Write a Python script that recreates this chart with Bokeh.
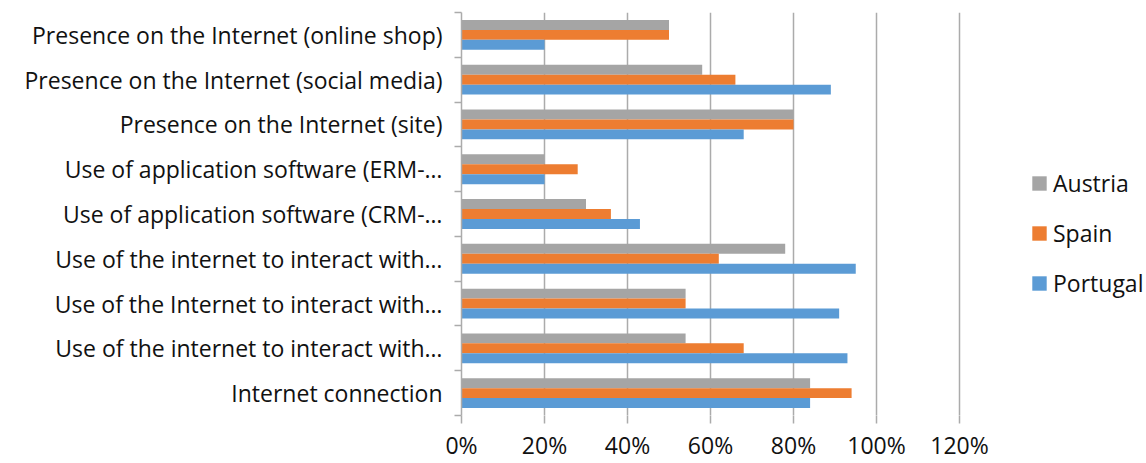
from bokeh.plotting import figure
from bokeh.models import (Range1d, FixedTicker, PrintfTickFormatter, ColumnDataSource,
                          Legend, LegendItem)
from bokeh.transform import dodge
from bokeh.embed import file_html
from bokeh.resources import INLINE

# Categories listed bottom-to-top (as drawn in the chart)
categories = [
    "Internet connection",
    "Use of the internet to interact with…",
    "Use of the Internet to interact with…",
    "Use of the internet to interact with…",
    "Use of application software (CRM-…",
    "Use of application software (ERM-…",
    "Presence on the Internet (site)",
    "Presence on the Internet (social media)",
    "Presence on the Internet (online shop)",
]
portugal = [84, 93, 91, 95, 43, 20, 68, 89, 20]
spain = [94, 68, 54, 62, 36, 28, 80, 66, 50]
austria = [84, 54, 54, 78, 30, 20, 80, 58, 50]
x_ticks = [0, 20, 40, 60, 80, 100, 120]

n = len(categories)
ypos = [i + 0.5 for i in range(n)]
src = ColumnDataSource(dict(y=ypos, portugal=portugal, spain=spain, austria=austria))

FONT = "Open Sans"
FS = "23px"
GRAY = "#ABABAB"
TXT = "#111111"

W, H = 1146, 463
AX_LEFT, AX_RIGHT = 461, 959       # pixel span of 0% .. 120%
x_end = 120 * (W - AX_LEFT) / (AX_RIGHT - AX_LEFT)   # frame extends under the legend

p = figure(width=W, height=H, output_backend="svg", toolbar_location=None,
           x_range=Range1d(0, x_end), y_range=Range1d(0, n),
           min_border_left=AX_LEFT, min_border_right=0, min_border_top=12,
           min_border_bottom=45)
p.outline_line_color = None
p.background_fill_color = "white"
p.border_fill_color = "white"

bar_h = 0.222
series = [("Austria", "austria", "#A5A5A5", bar_h),
          ("Spain", "spain", "#ED7D31", 0.0),
          ("Portugal", "portugal", "#5B9BD5", -bar_h)]
items = []
for name, col, color, off in series:
    r = p.hbar(y=dodge("y", off), left=0, right=col, height=bar_h, source=src,
               fill_color=color, line_color=None)
    items.append(LegendItem(label=name, renderers=[r]))

# x axis
p.xaxis.ticker = FixedTicker(ticks=x_ticks)
p.xaxis.formatter = PrintfTickFormatter(format="%d%%")
p.xaxis.axis_line_color = None
p.xaxis.major_tick_out = 8
p.xaxis.major_tick_in = 0
p.xaxis.major_tick_line_color = GRAY
p.xaxis.major_tick_line_width = 1.5
p.xaxis.minor_tick_line_color = None
p.xaxis.major_label_standoff = 5
p.xaxis.major_label_text_font = FONT
p.xaxis.major_label_text_font_size = FS
p.xaxis.major_label_text_color = TXT
p.xgrid.ticker = FixedTicker(ticks=x_ticks)
p.xgrid.grid_line_color = GRAY
p.xgrid.grid_line_width = 1.5
p.ygrid.grid_line_color = None

# y axis
p.yaxis.ticker = FixedTicker(ticks=ypos, minor_ticks=list(range(n + 1)))
p.yaxis.major_label_overrides = {y: c for y, c in zip(ypos, categories)}
p.yaxis.major_tick_out = 0
p.yaxis.major_tick_in = 0
p.yaxis.major_tick_line_color = None
p.yaxis.minor_tick_out = 7
p.yaxis.minor_tick_in = 0
p.yaxis.minor_tick_line_color = GRAY
p.yaxis.minor_tick_line_width = 1.5
p.yaxis.axis_line_color = GRAY
p.yaxis.axis_line_width = 1.5
p.yaxis.major_label_standoff = 12
p.yaxis.major_label_text_font = FONT
p.yaxis.major_label_text_font_size = FS
p.yaxis.major_label_text_color = TXT

legend = Legend(items=items, location=(569, 116))
legend.label_text_font = FONT
legend.label_text_font_size = FS
legend.label_text_color = TXT
legend.glyph_width = 18
legend.glyph_height = 18
legend.label_height = 30
legend.spacing = 18
legend.padding = 0
legend.margin = 0
legend.label_standoff = 5
legend.border_line_color = None
legend.background_fill_alpha = 0
p.add_layout(legend, "center")

open("out.html", "w").write(file_html(p, INLINE))
